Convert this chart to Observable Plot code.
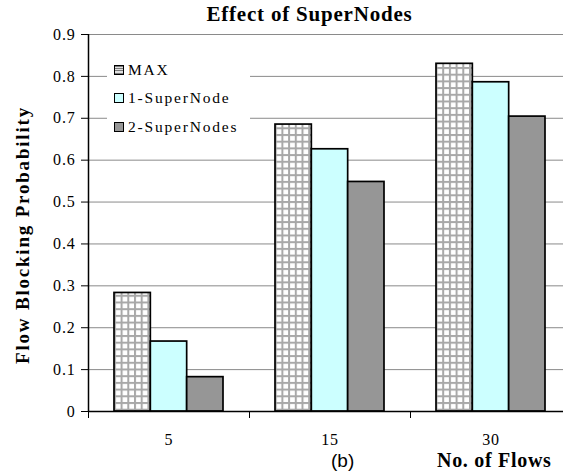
<!DOCTYPE html>
<html>
<head>
<meta charset="utf-8">
<script src="https://cdn.jsdelivr.net/npm/d3@7"></script>
<script src="https://cdn.jsdelivr.net/npm/@observablehq/plot@0.6"></script>
<style>
  html, body { margin: 0; padding: 0; background: #fff; overflow: hidden; }
  #wrap { position: relative; width: 563px; height: 473px; overflow: hidden; font-family: "Liberation Serif", "DejaVu Serif", serif; }
  #title { position: absolute; left: 0; width: 563px; top: 2px; text-align: center; padding-left: 56px; box-sizing: border-box;
           font-weight: bold; font-size: 21px; letter-spacing: 0.8px; line-height: 24px; }
  #legend { position: absolute; left: 107px; top: 56px; width: 143px; height: 84px; background: #fff; }
  .item { position: absolute; left: 7px; height: 18px; display: flex; align-items: center; font-size: 15.5px; letter-spacing: 1.8px; }
  .sw { width: 8px; height: 8px; border: 1.5px solid #000; margin-right: 4px; box-sizing: content-box; }
  #b { position: absolute; left: 331px; top: 450px; font-family: "Liberation Sans", Arial, sans-serif; font-size: 19px; line-height: 21px; }
  #xlab { position: absolute; left: 437px; top: 450px; font-weight: bold; font-size: 20px; letter-spacing: 0.7px; line-height: 21px; white-space: nowrap; }
</style>
</head>
<body>
<div id="wrap">
  <div id="chart"></div>
  <div id="title">Effect of SuperNodes</div>
  <div id="legend"></div>
  <div id="b">(b)</div>
  <div id="xlab">No. of Flows</div>
</div>
<script>
// ---- data ----
const flows = ["5", "15", "30"];
const series = ["MAX", "1-SuperNode", "2-SuperNodes"];
const maxValues = [0.283, 0.685, 0.830];
const oneSuperNode = [0.167, 0.626, 0.786];
const twoSuperNodes = [0.082, 0.548, 0.704];
const yTicks = [0, 0.1, 0.2, 0.3, 0.4, 0.5, 0.6, 0.7, 0.8, 0.9];
const yLabel = "Flow Blocking Probability";
const seriesFills = ["url(#gridPattern)", "#ccffff", "#969696"];

// group layout in category units (each category is 1 unit wide)
const groupPad = 26 / 161;
const barW = (1 - 2 * groupPad) / series.length;

const valuesBySeries = [maxValues, oneSuperNode, twoSuperNodes];
const data = [];
flows.forEach((f, i) => {
  series.forEach((s, j) => {
    const x1 = i + groupPad + j * barW;
    data.push({flow: f, series: s, value: valuesBySeries[j][i], x1, x2: x1 + barW});
  });
});

const defsMark = () => {
  const svgNS = "http://www.w3.org/2000/svg";
  const defs = document.createElementNS(svgNS, "defs");
  defs.innerHTML = `
    <pattern id="gridPattern" patternUnits="userSpaceOnUse" width="6.7" height="6.7">
      <rect width="6.7" height="6.7" fill="#ffffff"/>
      <rect x="0" y="0" width="2" height="6.7" fill="#a8a8a8"/>
      <rect x="0" y="0" width="6.7" height="2" fill="#a8a8a8"/>
    </pattern>`;
  return defs;
};

const chart = Plot.plot({
  width: 563,
  height: 473,
  marginTop: 34,
  marginBottom: 62,
  marginLeft: 88,
  marginRight: 0,
  style: {fontFamily: "'Liberation Serif', serif", fontSize: "16px", color: "#000", background: "#fff", overflow: "hidden"},
  x: {domain: [0, 3], range: [88, 571]},
  y: {domain: [0, 0.9]},
  color: {domain: series, range: seriesFills},
  marks: [
    defsMark,
    Plot.gridY(yTicks, {stroke: "#8a8a8a", strokeOpacity: 1, strokeWidth: 1}),
    Plot.rectY(data, {x1: "x1", x2: "x2", y: "value", fill: "series", stroke: "#000", strokeWidth: 1.7}),
    Plot.ruleY([0], {stroke: "#000", strokeWidth: 1.5}),
    Plot.ruleX([0], {stroke: "#000", strokeWidth: 1.5}),
    Plot.axisY({
      ticks: yTicks,
      tickFormat: d => d === 0 ? "0" : d.toFixed(1),
      tickSize: 7,
      tickPadding: 6,
      fontSize: 16,
      label: null
    }),
    Plot.text([yLabel], {
      frameAnchor: "left", rotate: -90, dx: -66, dy: 12,
      fontSize: 19, fontWeight: "bold", textAnchor: "middle"
    }),
    Plot.axisX({ticks: [0, 1, 2, 3], tickFormat: () => "", tickSize: 7, label: null}),
    Plot.axisX({ticks: [0.5, 1.5, 2.5], tickFormat: (d, i) => flows[i], tickSize: 0, tickPadding: 22, fontSize: 16, label: null})
  ]
});
document.getElementById("chart").appendChild(chart);

// letter spacing like the original rendering
d3.select(chart).selectAll("g[aria-label='text'] text").style("letter-spacing", "1.8px");
d3.select(chart).selectAll("g[aria-label='y-axis tick label'] text").style("letter-spacing", "0.8px");
d3.select(chart).selectAll("g[aria-label='x-axis tick label'] text").style("letter-spacing", "0.8px");

// legend
const legend = d3.select("#legend");
const tops = [5, 33, 62];
series.forEach((s, j) => {
  const it = legend.append("div").attr("class", "item").style("top", tops[j] + "px");
  it.append("div").attr("class", "sw")
    .style("background", j === 0
      ? "repeating-linear-gradient(0deg,#7a7a7a 0 1px,#e0e0e0 1px 2.5px)"
      : seriesFills[j]);
  it.append("span").text(s);
});
</script>
</body>
</html>
